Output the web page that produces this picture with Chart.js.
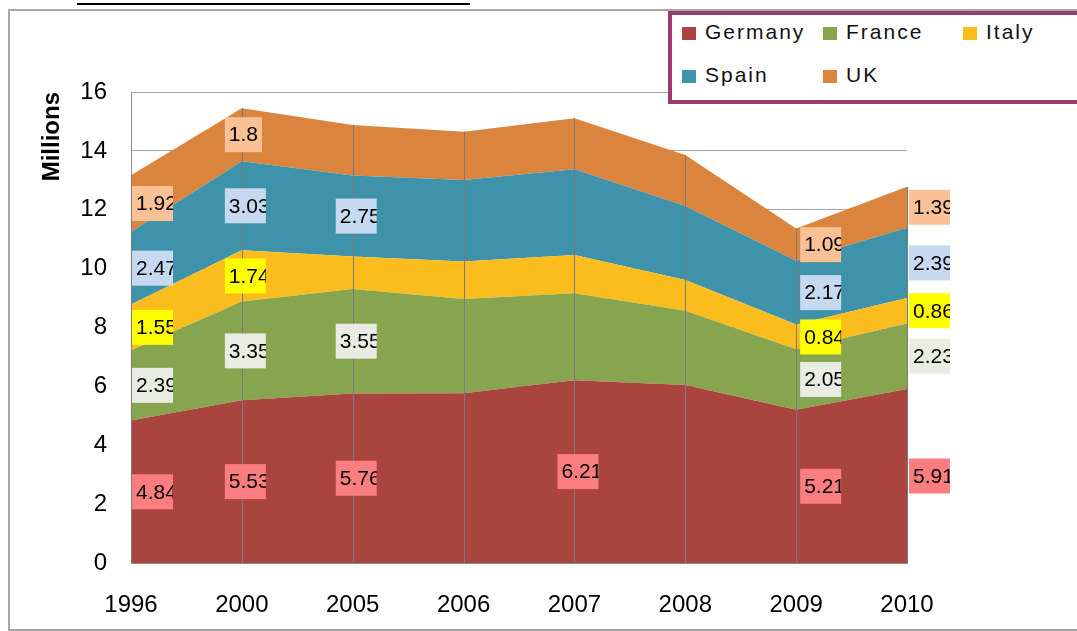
<!DOCTYPE html>
<html>
<head>
<meta charset="utf-8">
<script src="https://cdn.jsdelivr.net/npm/chart.js@4"></script>
<style>
    body { margin: 0; background: #fff; }
    #wrap { position: relative; width: 1077px; height: 631px; overflow: hidden; font-family: "Liberation Sans", Arial, sans-serif; }
    #frame { position: absolute; left: 8px; top: 9px; width: 1100px; height: 618px; border: 2px solid #a6a6a6; }
    #titleLine { position: absolute; left: 77px; top: 3px; width: 393px; border-top: 2px solid #000; }
    #chart { position: absolute; left: 0; top: 0; }
    #legend { position: absolute; left: 668px; top: 11px; width: 430px; height: 85px; border: 4px solid #9b3a6e; background: #fff; }
    .item { position: absolute; font-size: 21px; letter-spacing: 2px; color: #111; line-height: 24px; }
    .item span { display: inline-block; width: 14px; height: 13px; margin-right: 9px; vertical-align: -1px; }
</style>
</head>
<body>
<div id="wrap">
    <div id="frame"></div>
    <div id="titleLine"></div>
    <canvas id="chart" width="1077" height="631"></canvas>
    <div id="legend"></div>
</div>
<script>
// ================= DATA =================
const years = ["1996", "2000", "2005", "2006", "2007", "2008", "2009", "2010"];
const germany = [4.84, 5.53, 5.76, 5.77, 6.21, 6.05, 5.21, 5.91];
const france  = [2.39, 3.35, 3.55, 3.20, 2.95, 2.52, 2.05, 2.23];
const italy   = [1.55, 1.74, 1.10, 1.27, 1.30, 1.04, 0.84, 0.86];
const spain   = [2.47, 3.03, 2.75, 2.77, 2.92, 2.52, 2.17, 2.39];
const uk      = [1.92, 1.80, 1.72, 1.64, 1.73, 1.73, 1.09, 1.39];
const yTicks  = [0, 2, 4, 6, 8, 10, 12, 14, 16];

// which points carry a value label
const germanyLabels = [0, 1, 2, 4, 6, 7];
const franceLabels  = [0, 1, 2, 6, 7];
const italyLabels   = [0, 1, 6, 7];
const spainLabels   = [0, 1, 2, 6, 7];
const ukLabels      = [0, 1, 6, 7];

// ================= STYLE =================
const series = [
    { name: "Germany", data: germany, color: "#a9443f", labelBg: "#fa7d80", labels: germanyLabels },
    { name: "France",  data: france,  color: "#87a54f", labelBg: "#e9ece3", labels: franceLabels },
    { name: "Italy",   data: italy,   color: "#fbbd1e", labelBg: "#ffff00", labels: italyLabels },
    { name: "Spain",   data: spain,   color: "#3e93ab", labelBg: "#c6d9f0", labels: spainLabels },
    { name: "UK",      data: uk,      color: "#da843e", labelBg: "#f9c195", labels: ukLabels }
];

// ================= LEGEND (HTML) =================
const legendPos = [[10, 5], [151, 5], [291, 5], [10, 48], [151, 48]];
const legendEl = document.getElementById("legend");
series.forEach((s, i) => {
    legendEl.innerHTML += `<div class="item" style="left:${legendPos[i][0]}px;top:${legendPos[i][1]}px">` +
        `<span style="background:${s.color}"></span>${s.name}</div>`;
});

// ================= PLUGIN: drop lines + value labels =================
const bandLabels = {
    id: "bandLabels",
    afterDatasetsDraw(chart, args, opts) {
        const ctx = chart.ctx;
        const xs = chart.scales.x, ys = chart.scales.y;

        // drop lines
        ctx.save();
        ctx.strokeStyle = "#7a7a7a";
        ctx.lineWidth = 1;
        years.forEach((yr, i) => {
            const total = series.reduce((t, s) => t + s.data[i], 0);
            const px = Math.round(xs.getPixelForValue(i)) + 0.5;
            ctx.beginPath();
            ctx.moveTo(px, ys.getPixelForValue(total));
            ctx.lineTo(px, ys.getPixelForValue(0));
            ctx.stroke();
        });
        ctx.restore();

        // labels (text is clipped by its box, like the original)
        ctx.save();
        ctx.font = "21px 'Liberation Sans', Arial, sans-serif";
        ctx.textBaseline = "middle";
        series.forEach((s, si) => {
            s.labels.forEach(i => {
                let base = 0;
                for (let k = 0; k < si; k++) base += series[k].data[i];
                const txt = String(s.data[i]);
                const w = Math.min(ctx.measureText(txt).width + 8, 41);
                const h = 35;
                const bx = xs.getPixelForValue(i) + opts.shift[i];
                const by = ys.getPixelForValue(base + s.data[i] / 2) - h / 2;
                ctx.fillStyle = s.labelBg;
                ctx.fillRect(bx, by, w, h);
                ctx.save();
                ctx.beginPath();
                ctx.rect(bx, by, w, h);
                ctx.clip();
                ctx.fillStyle = "#000";
                ctx.fillText(txt, bx + 4, by + h / 2 + 1);
                ctx.restore();
            });
        });
        ctx.restore();
    }
};

// ================= CHART =================
new Chart(document.getElementById("chart"), {
    type: "line",
    data: {
        labels: years,
        datasets: series.map((s, i) => ({
            label: s.name,
            data: s.data,
            backgroundColor: s.color,
            borderColor: s.color,
            borderWidth: 0,
            pointRadius: 0,
            tension: 0,
            fill: i === 0 ? "origin" : "-1"
        }))
    },
    options: {
        responsive: false,
        animation: false,
        layout: { padding: { left: 38, right: 170, top: 92, bottom: 18 } },
        plugins: {
            legend: { display: false },
            tooltip: { enabled: false },
            bandLabels: { shift: [1, -17, -17, -17, -17, -17, 4, 2] }
        },
        scales: {
            x: {
                offset: false,
                grid: { display: false, drawTicks: false },
                border: { display: true, color: "#8c8c8c" },
                ticks: { color: "#000", font: { size: 24 }, padding: 28, maxRotation: 0 },
                afterFit: scale => { scale.height = 50; }
            },
            y: {
                stacked: true,
                min: 0,
                max: 16,
                afterBuildTicks: scale => { scale.ticks = yTicks.map(v => ({ value: v })); },
                grid: { color: "#a6a6a6", lineWidth: 1, drawTicks: false },
                border: { display: true, color: "#8c8c8c" },
                ticks: { color: "#000", font: { size: 24 }, padding: 24 },
                title: {
                    display: true,
                    text: "Millions",
                    align: "end",
                    color: "#000",
                    font: { size: 24, weight: "bold" },
                    padding: 0
                },
                afterFit: scale => { scale.width = 93; }
            }
        }
    },
    plugins: [bandLabels]
});
</script>
</body>
</html>
